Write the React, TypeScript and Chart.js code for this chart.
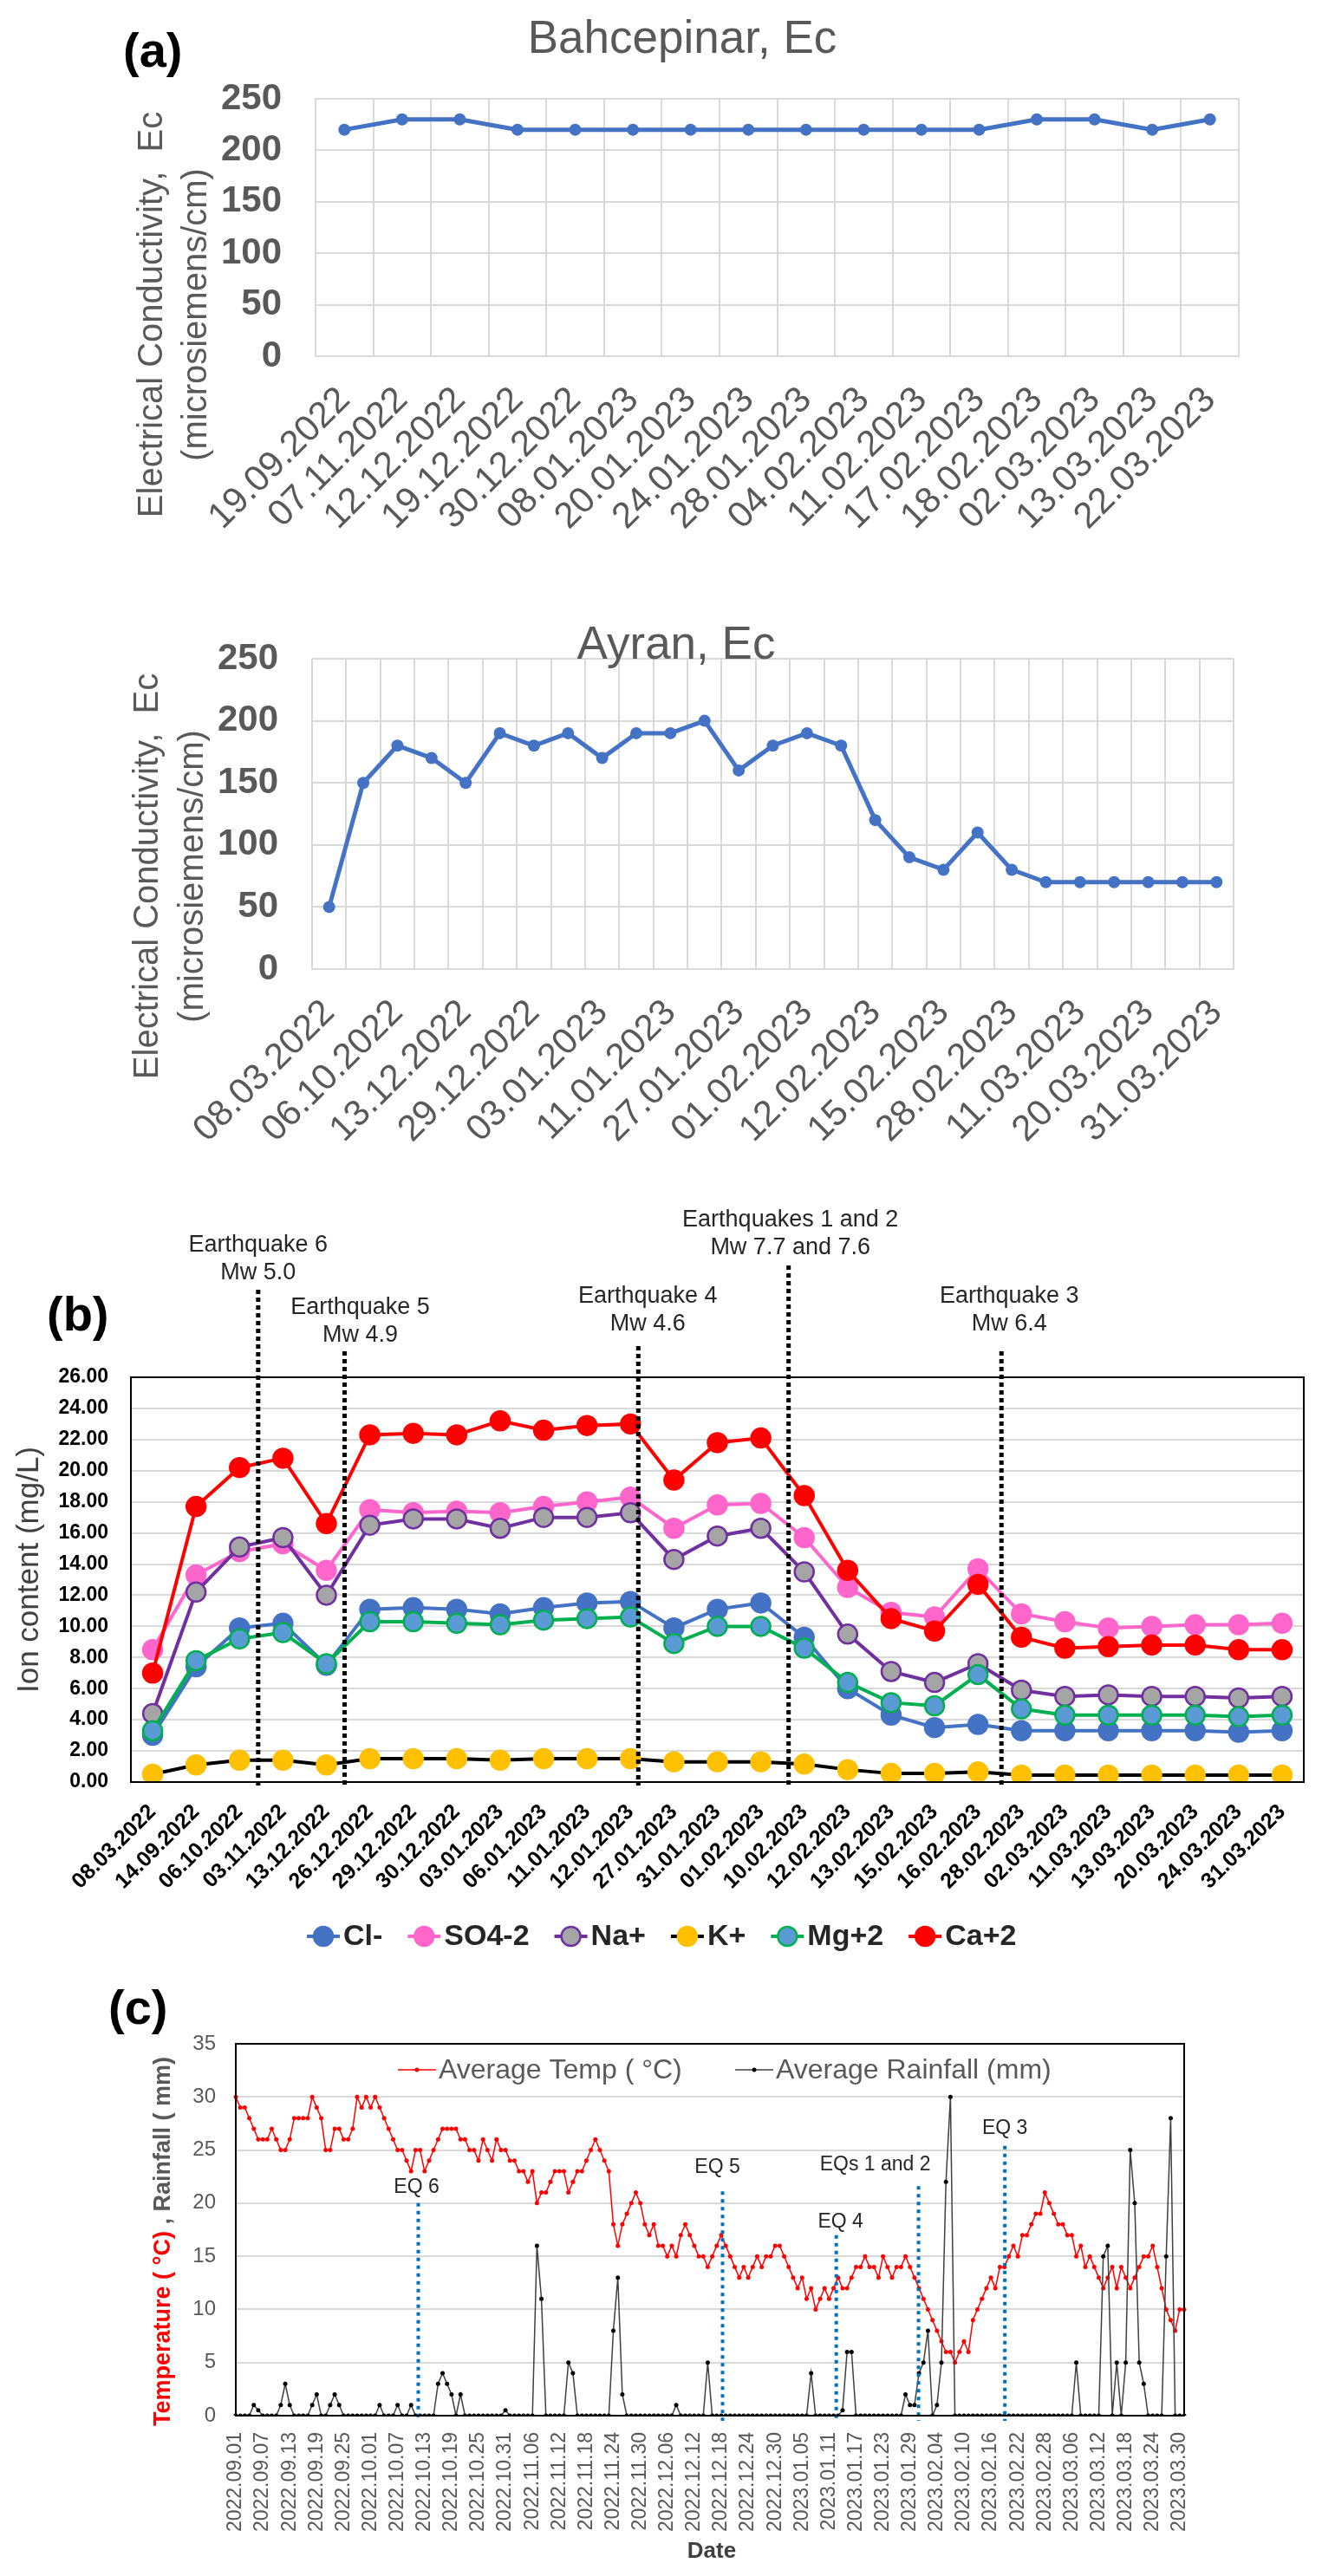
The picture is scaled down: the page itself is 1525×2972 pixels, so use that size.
import React, { useEffect, useRef } from 'react';
import { Chart, registerables } from 'chart.js';

Chart.register(...registerables);

const FONT = "'Liberation Sans', Arial, sans-serif";

// ---------- (a) Bahcepinar ----------
const bahcepinarDates = ['19.09.2022', '07.11.2022', '12.12.2022', '19.12.2022', '30.12.2022', '08.01.2023', '20.01.2023', '24.01.2023', '28.01.2023', '04.02.2023', '11.02.2023', '17.02.2023', '18.02.2023', '02.03.2023', '13.03.2023', '22.03.2023'];
const bahcepinarEc = [220, 230, 230, 220, 220, 220, 220, 220, 220, 220, 220, 220, 230, 230, 220, 230];

// ---------- (a) Ayran and (b) ions share sampling dates ----------
const sampleDates = ['08.03.2022', '14.09.2022', '06.10.2022', '03.11.2022', '13.12.2022', '26.12.2022', '29.12.2022', '30.12.2022', '03.01.2023', '06.01.2023', '11.01.2023', '12.01.2023', '27.01.2023', '31.01.2023', '01.02.2023', '10.02.2023', '12.02.2023', '13.02.2023', '15.02.2023', '16.02.2023', '28.02.2023', '02.03.2023', '11.03.2023', '13.03.2023', '20.03.2023', '24.03.2023', '31.03.2023'];
const ayranEc = [50, 150, 180, 170, 150, 190, 180, 190, 170, 190, 190, 200, 160, 180, 190, 180, 120, 90, 80, 110, 80, 70, 70, 70, 70, 70, 70];

const clValues = [3.0, 7.4, 9.9, 10.2, 7.5, 11.1, 11.2, 11.1, 10.8, 11.2, 11.5, 11.6, 9.9, 11.1, 11.5, 9.3, 6.0, 4.3, 3.5, 3.7, 3.3, 3.3, 3.3, 3.3, 3.3, 3.2, 3.3];
const so4Values = [8.5, 13.3, 14.8, 15.3, 13.6, 17.5, 17.3, 17.4, 17.3, 17.7, 18.0, 18.3, 16.3, 17.8, 17.9, 15.7, 12.5, 10.9, 10.6, 13.7, 10.8, 10.3, 9.9, 10.0, 10.1, 10.1, 10.2];
const naValues = [4.4, 12.2, 15.1, 15.7, 12.0, 16.5, 16.9, 16.9, 16.3, 17.0, 17.0, 17.3, 14.3, 15.8, 16.3, 13.5, 9.5, 7.1, 6.4, 7.6, 5.9, 5.5, 5.6, 5.5, 5.5, 5.4, 5.5];
const kValues = [0.5, 1.1, 1.4, 1.4, 1.1, 1.5, 1.5, 1.5, 1.4, 1.5, 1.5, 1.5, 1.3, 1.3, 1.3, 1.15, 0.8, 0.55, 0.55, 0.65, 0.45, 0.45, 0.45, 0.45, 0.45, 0.45, 0.45];
const mgValues = [3.3, 7.8, 9.2, 9.6, 7.6, 10.3, 10.3, 10.2, 10.1, 10.4, 10.5, 10.6, 8.9, 10.0, 10.0, 8.6, 6.4, 5.1, 4.9, 6.9, 4.7, 4.3, 4.3, 4.3, 4.3, 4.2, 4.3];
const caValues = [7.0, 17.7, 20.2, 20.8, 16.6, 22.3, 22.4, 22.3, 23.2, 22.6, 22.9, 23.0, 19.4, 21.8, 22.1, 18.4, 13.6, 10.5, 9.7, 12.7, 9.3, 8.6, 8.7, 8.8, 8.8, 8.5, 8.5];

const ionQuakes = [
  { lines: ['Earthquake 6', 'Mw 5.0'], at: 2.43, lineTop: 108, textDx: 0, textY: 57 },
  { lines: ['Earthquake 5', 'Mw 4.9'], at: 4.42, lineTop: 179, textDx: 18, textY: 129 },
  { lines: ['Earthquake 4', 'Mw 4.6'], at: 11.18, lineTop: 173, textDx: 11, textY: 116 },
  { lines: ['Earthquakes 1 and 2', 'Mw 7.7 and 7.6'], at: 14.64, lineTop: 80, textDx: 2, textY: 28 },
  { lines: ['Earthquake 3', 'Mw 6.4'], at: 19.54, lineTop: 179, textDx: 9, textY: 116 },
];

// ---------- (c) daily weather ----------
const weatherStart = Date.UTC(2022, 8, 1);
const weatherDayCount = 212;
const weatherDates: string[] = [];
for (let i = 0; i < weatherDayCount; i++) {
  const d = new Date(weatherStart + i * 86400000);
  weatherDates.push(`${d.getUTCFullYear()}.${String(d.getUTCMonth() + 1).padStart(2, '0')}.${String(d.getUTCDate()).padStart(2, '0')}`);
}
const avgTemp = [
  30, 29, 29, 28, 27, 26, 26, 26, 27, 26, 25, 25, 26, 28, 28, 28, 28, 30, 29, 28,
  25, 25, 27, 27, 26, 26, 27, 30, 29, 30, 29, 30, 29, 28, 27, 26, 25, 25, 24, 23,
  25, 25, 23, 24, 25, 26, 27, 27, 27, 27, 26, 26, 25, 25, 24, 26, 25, 24, 26, 25,
  25, 24, 24, 23, 23, 22, 23, 20, 21, 21, 22, 23, 23, 23, 21, 22, 23, 23, 24, 25,
  26, 25, 24, 23, 18, 16, 18, 19, 20, 21, 20, 18, 17, 18, 16, 16, 15, 16, 15, 17,
  18, 17, 16, 15, 15, 14, 15, 16, 17, 16, 15, 14, 13, 14, 13, 14, 15, 14, 15, 15,
  16, 16, 15, 14, 13, 12, 13, 11, 12, 10, 11, 12, 11, 12, 13, 12, 12, 13, 14, 14,
  15, 14, 14, 13, 15, 14, 13, 14, 14, 15, 14, 13, 12, 11, 10, 9, 8, 7, 6, 6,
  5, 6, 7, 6, 9, 10, 11, 12, 13, 12, 14, 14, 15, 16, 15, 17, 17, 18, 19, 19,
  21, 20, 19, 18, 18, 17, 17, 15, 16, 14, 15, 14, 13, 12, 13, 14, 12, 14, 13, 12,
  13, 14, 15, 15, 16, 14, 12, 10, 9, 8, 10, 10,
];
const avgRain = [
  0, 0, 0, 0, 1, 0.5, 0, 0, 0, 0, 1, 3, 1, 0, 0, 0, 0, 1, 2, 0,
  0, 1, 2, 1, 0, 0, 0, 0, 0, 0, 0, 0, 1, 0, 0, 0, 1, 0, 0, 1,
  0, 0, 0, 0, 0, 3, 4, 3, 2, 0, 2, 0, 0, 0, 0, 0, 0, 0, 0, 0,
  0.5, 0, 0, 0, 0, 0, 0, 16, 11, 0, 0, 0, 0, 0, 5, 4, 0, 0, 0, 0,
  0, 0, 0, 0, 8, 13, 2, 0, 0, 0, 0, 0, 0, 0, 0, 0, 0, 0, 1, 0,
  0, 0, 0, 0, 0, 5, 0, 0, 0, 0, 0, 0, 0, 0, 0, 0, 0, 0, 0, 0,
  0, 0, 0, 0, 0, 0, 0, 0, 4, 0, 0, 0, 0, 0, 0, 0.5, 6, 6, 0, 0,
  0, 0, 0, 0, 0, 0, 0, 0, 0, 2, 1, 1, 4, 5, 8, 0, 1, 5, 22, 30,
  0, 0, 0, 0, 0, 0, 0, 0, 0, 0, 0, 0, 0, 0, 0, 0, 0, 0, 0, 0,
  0, 0, 0, 0, 0, 0, 0, 5, 0, 0, 0, 0, 0, 15, 16, 0, 5, 0, 5, 25,
  20, 5, 3, 0, 0, 0, 0, 15, 28, 0, 0, 0,
];
const weatherQuakes = [
  { label: 'EQ 6', at: 40.6, top: 20.0, labelAt: 21.5, labelDx: -2 },
  { label: 'EQ 5', at: 108.3, top: 21.1, labelAt: 23.4, labelDx: -6 },
  { label: 'EQ 4', at: 133.6, top: 17.0, labelAt: 18.2, labelDx: 5 },
  { label: 'EQs 1 and 2', at: 151.9, top: 21.6, labelAt: 23.6, labelDx: -50 },
  { label: 'EQ 3', at: 171.1, top: 25.4, labelAt: 27.0, labelDx: 0 },
];

// ---------- helpers ----------
type TextPart = { text: string; color: string };
type TextItem = { text?: string; parts?: TextPart[]; color?: string; x: number; y: number; font: string; align?: 'left' | 'center' | 'right'; baseline?: CanvasTextBaseline; rotate?: number };

function drawTexts(ctx: CanvasRenderingContext2D, items: TextItem[]) {
  for (const it of items) {
    ctx.save();
    ctx.font = it.font;
    ctx.translate(it.x, it.y);
    if (it.rotate) ctx.rotate(it.rotate);
    ctx.textBaseline = it.baseline || 'middle';
    ctx.textAlign = 'left';
    const parts = it.parts || [{ text: it.text || '', color: it.color || '#000' }];
    const total = parts.reduce((w, p) => w + ctx.measureText(p.text).width, 0);
    let x = it.align === 'left' ? 0 : it.align === 'right' ? -total : -total / 2;
    for (const p of parts) {
      ctx.fillStyle = p.color;
      ctx.fillText(p.text, x, 0);
      x += ctx.measureText(p.text).width;
    }
    ctx.restore();
  }
}

const textPlugin = (items: TextItem[]) => ({
  id: 'overlayText',
  afterDraw(chart: any) {
    drawTexts(chart.ctx, items);
  },
});

const framePlugin = (color: string, width: number) => ({
  id: 'frame',
  afterDraw(chart: any) {
    const { left, top, right, bottom } = chart.chartArea;
    const ctx = chart.ctx;
    ctx.save();
    ctx.strokeStyle = color;
    ctx.lineWidth = width;
    ctx.strokeRect(left, top, right - left, bottom - top);
    ctx.restore();
  },
});

function ChartCanvas({ top, height, config }: { top: number; height: number; config: () => any }) {
  const ref = useRef<HTMLCanvasElement | null>(null);
  useEffect(() => {
    if (!ref.current) return;
    const chart = new Chart(ref.current, config());
    return () => chart.destroy();
  }, []);
  return (
    <canvas
      ref={ref}
      width={1525}
      height={height}
      style={{ position: 'absolute', left: 0, top, width: 1525, height, display: 'block' }}
    />
  );
}

const baseOptions = {
  animation: false,
  responsive: false,
  maintainAspectRatio: false,
  devicePixelRatio: 1,
};

// ---------- (a) configs ----------
function ecConfig(opts: {
  labels: string[];
  values: number[];
  padding: any;
  xHeight: number;
  title: string;
  titleX: number;
  titleY: number;
  yTitleX: [number, number];
  yTitleY: number;
  everyOther: boolean;
  extraTexts: TextItem[];
}) {
  const grey = '#595959';
  const texts: TextItem[] = [
    { text: opts.title, x: opts.titleX, y: opts.titleY, font: `53px ${FONT}`, color: grey, baseline: 'alphabetic' },
    { text: 'Electrical Conductivity,  Ec', x: opts.yTitleX[0], y: opts.yTitleY, font: `40px ${FONT}`, color: grey, rotate: -Math.PI / 2 },
    { text: '(microsiemens/cm)', x: opts.yTitleX[1], y: opts.yTitleY, font: `40px ${FONT}`, color: grey, rotate: -Math.PI / 2 },
    ...opts.extraTexts,
  ];
  return {
    type: 'line',
    data: {
      labels: opts.labels,
      datasets: [
        {
          data: opts.values,
          borderColor: '#4472C4',
          backgroundColor: '#4472C4',
          borderWidth: 5,
          pointRadius: 7,
          pointBorderWidth: 0,
          pointBackgroundColor: '#4472C4',
          tension: 0,
        },
      ],
    },
    options: {
      ...baseOptions,
      layout: { padding: opts.padding },
      plugins: { legend: { display: false }, tooltip: { enabled: false }, title: { display: false } },
      scales: {
        x: {
          type: 'category',
          offset: true,
          grid: { offset: true, color: '#D9D9D9', lineWidth: 2, drawTicks: false },
          border: { color: '#D9D9D9', width: 2 },
          ticks: {
            autoSkip: false,
            maxRotation: 45,
            minRotation: 45,
            padding: 26,
            color: grey,
            font: { family: FONT, size: 42 },
            callback: function (this: any, v: any, i: number) {
              if (opts.everyOther && i % 2 !== 0) return '';
              return opts.labels[i];
            },
          },
          afterFit: (s: any) => {
            s.height = opts.xHeight;
          },
        },
        y: {
          min: 0,
          max: 250,
          grid: { color: '#D9D9D9', lineWidth: 2, drawTicks: false },
          border: { display: false },
          ticks: { stepSize: 50, padding: 39, color: grey, font: { family: FONT, size: 42, weight: 'bold' } },
          afterFit: (s: any) => {
            s.width = 160;
          },
        },
      },
    },
    plugins: [textPlugin(texts)],
  };
}

const bahcepinarConfig = () =>
  ecConfig({
    labels: bahcepinarDates,
    values: bahcepinarEc,
    padding: { left: 204, right: 96, top: 114, bottom: 9 },
    xHeight: 230,
    title: 'Bahcepinar, Ec',
    titleX: 787,
    titleY: 61,
    yTitleX: [176, 227],
    yTitleY: 363,
    everyOther: false,
    extraTexts: [{ text: '(a)', x: 142, y: 62, font: `bold 56px ${FONT}`, color: '#000', align: 'left' }],
  });

const ayranConfig = () =>
  ecConfig({
    labels: sampleDates,
    values: ayranEc,
    padding: { left: 200, right: 102, top: 110, bottom: 7 },
    xHeight: 225,
    title: 'Ayran, Ec',
    titleX: 780,
    titleY: 110,
    yTitleX: [171, 223],
    yTitleY: 361,
    everyOther: true,
    extraTexts: [],
  });

// ---------- (b) config ----------
const ionSeries = [
  { label: 'Cl-', data: clValues, line: '#4472C4', fill: '#4472C4', edge: '#4472C4' },
  { label: 'SO4-2', data: so4Values, line: '#FF66CC', fill: '#FF66CC', edge: '#FF66CC' },
  { label: 'Na+', data: naValues, line: '#7030A0', fill: '#A5A5A5', edge: '#7030A0' },
  { label: 'K+', data: kValues, line: '#000000', fill: '#FFC000', edge: '#FFC000' },
  { label: 'Mg+2', data: mgValues, line: '#00B050', fill: '#5B9BD5', edge: '#00B050' },
  { label: 'Ca+2', data: caValues, line: '#FF0000', fill: '#FF0000', edge: '#FF0000' },
];

const ionConfig = () => {
  const quakePlugin = {
    id: 'ionQuakes',
    afterDatasetsDraw(chart: any) {
      const ctx = chart.ctx;
      const xs = chart.scales.x;
      const bottom = chart.chartArea.bottom + 4;
      for (const q of ionQuakes) {
        const x = xs.getPixelForValue(q.at);
        ctx.save();
        ctx.strokeStyle = '#000';
        ctx.lineWidth = 5;
        ctx.setLineDash([5, 4]);
        ctx.beginPath();
        ctx.moveTo(x, q.lineTop);
        ctx.lineTo(x, bottom);
        ctx.stroke();
        ctx.restore();
        drawTexts(
          ctx,
          q.lines.map((t, k) => ({ text: t, x: x + q.textDx, y: q.textY + k * 32, font: `27px ${FONT}`, color: '#262626' }))
        );
      }
    },
  };
  const legendPlugin = {
    id: 'ionLegend',
    afterDraw(chart: any) {
      const ctx = chart.ctx;
      const y = 854;
      let x = 354;
      ctx.save();
      ctx.font = `bold 34px ${FONT}`;
      ctx.textBaseline = 'middle';
      ctx.textAlign = 'left';
      chart.data.datasets.forEach((ds: any) => {
        ctx.strokeStyle = ds.borderColor;
        ctx.lineWidth = 4;
        ctx.beginPath();
        ctx.moveTo(x, y);
        ctx.lineTo(x + 38, y);
        ctx.stroke();
        ctx.beginPath();
        ctx.arc(x + 19, y, 11, 0, Math.PI * 2);
        ctx.fillStyle = ds.pointBackgroundColor;
        ctx.fill();
        ctx.lineWidth = 2.5;
        ctx.strokeStyle = ds.pointBorderColor;
        ctx.stroke();
        ctx.fillStyle = '#262626';
        ctx.fillText(ds.label, x + 42, y + 1);
        x += 42 + ctx.measureText(ds.label).width + 29;
      });
      ctx.restore();
    },
  };
  return {
    type: 'line',
    data: {
      labels: sampleDates,
      datasets: ionSeries.map((s, i) => ({
        label: s.label,
        data: s.data,
        borderColor: s.line,
        backgroundColor: s.fill,
        borderWidth: 4,
        pointRadius: 11,
        pointBorderWidth: 2.5,
        pointBackgroundColor: s.fill,
        pointBorderColor: s.edge,
        tension: 0,
        order: -i,
      })),
    },
    options: {
      ...baseOptions,
      layout: { padding: { left: 31, right: 21, top: 209, bottom: 64 } },
      plugins: { legend: { display: false }, tooltip: { enabled: false } },
      scales: {
        x: {
          type: 'category',
          offset: true,
          grid: { display: false, drawTicks: false },
          border: { display: false },
          ticks: {
            autoSkip: false,
            maxRotation: 45,
            minRotation: 45,
            padding: 20,
            color: '#000',
            font: { family: FONT, size: 25, weight: 'bold' },
          },
          afterFit: (s: any) => {
            s.height = 160;
          },
        },
        y: {
          min: 0,
          max: 26,
          grid: { color: '#D9D9D9', lineWidth: 2, drawTicks: false },
          border: { display: false },
          ticks: {
            stepSize: 2,
            padding: 26,
            color: '#000',
            font: { family: FONT, size: 23, weight: 'bold' },
            callback: (v: any) => Number(v).toFixed(2),
          },
          afterFit: (s: any) => {
            s.width = 120;
          },
        },
      },
    },
    plugins: [
      framePlugin('#000', 2),
      quakePlugin,
      legendPlugin,
      textPlugin([
        { text: '(b)', x: 54, y: 140, font: `bold 56px ${FONT}`, color: '#000', align: 'left' },
        { text: 'Ion content (mg/L)', x: 34, y: 431, font: `35px ${FONT}`, color: '#404040', rotate: -Math.PI / 2 },
      ]),
    ],
  };
};

// ---------- (c) config ----------
const weatherConfig = () => {
  const quakePlugin = {
    id: 'weatherQuakes',
    afterDatasetsDraw(chart: any) {
      const ctx = chart.ctx;
      const xs = chart.scales.x;
      const ys = chart.scales.y;
      const bottom = chart.chartArea.bottom + 6;
      for (const q of weatherQuakes) {
        const x = xs.getPixelForValue(q.at);
        ctx.save();
        ctx.strokeStyle = '#0070C0';
        ctx.lineWidth = 4;
        ctx.setLineDash([4, 5]);
        ctx.beginPath();
        ctx.moveTo(x, ys.getPixelForValue(q.top));
        ctx.lineTo(x, bottom);
        ctx.stroke();
        ctx.restore();
        drawTexts(ctx, [{ text: q.label, x: x + q.labelDx, y: ys.getPixelForValue(q.labelAt), font: `23px ${FONT}`, color: '#262626' }]);
      }
    },
  };
  const legendPlugin = {
    id: 'weatherLegend',
    afterDraw(chart: any) {
      const ctx = chart.ctx;
      const y = 98;
      const starts = [459, 848];
      ctx.save();
      ctx.font = `32px ${FONT}`;
      ctx.textBaseline = 'middle';
      ctx.textAlign = 'left';
      chart.data.datasets.forEach((ds: any, i: number) => {
        const x = starts[i];
        ctx.strokeStyle = ds.borderColor;
        ctx.lineWidth = 1.5;
        ctx.beginPath();
        ctx.moveTo(x, y);
        ctx.lineTo(x + 44, y);
        ctx.stroke();
        ctx.beginPath();
        ctx.arc(x + 22, y, 2.5, 0, Math.PI * 2);
        ctx.fillStyle = ds.pointBackgroundColor;
        ctx.fill();
        ctx.fillStyle = '#595959';
        ctx.fillText(ds.label, x + 47, y + 1);
      });
      ctx.restore();
    },
  };
  return {
    type: 'line',
    data: {
      labels: weatherDates,
      datasets: [
        {
          label: 'Average Temp ( °C)',
          data: avgTemp,
          borderColor: '#FF0000',
          backgroundColor: '#FF0000',
          borderWidth: 1.5,
          pointRadius: 2.5,
          pointBorderWidth: 0,
          pointBackgroundColor: '#FF0000',
          tension: 0,
          order: 0,
        },
        {
          label: 'Average Rainfall (mm)',
          data: avgRain,
          borderColor: '#404040',
          backgroundColor: '#000',
          borderWidth: 1.5,
          pointRadius: 2.5,
          pointBorderWidth: 0,
          pointBackgroundColor: '#000',
          tension: 0,
          order: -1,
        },
      ],
    },
    options: {
      ...baseOptions,
      layout: { padding: { left: 152, right: 159, top: 68, bottom: 25 } },
      plugins: { legend: { display: false }, tooltip: { enabled: false } },
      scales: {
        x: {
          type: 'category',
          offset: false,
          grid: { display: false, drawTicks: false },
          border: { display: false },
          ticks: {
            autoSkip: false,
            maxRotation: 90,
            minRotation: 90,
            padding: 19,
            color: '#595959',
            font: { family: FONT, size: 23 },
            callback: (v: any, i: number) => (i % 6 === 0 ? weatherDates[i] : ''),
          },
          afterFit: (s: any) => {
            s.height = 160;
          },
        },
        y: {
          min: 0,
          max: 35,
          grid: { color: '#D9D9D9', lineWidth: 2, drawTicks: false },
          border: { display: false },
          ticks: { stepSize: 5, padding: 23, color: '#595959', font: { family: FONT, size: 24 } },
          afterFit: (s: any) => {
            s.width = 120;
          },
        },
      },
    },
    plugins: [
      framePlugin('#000', 2),
      quakePlugin,
      legendPlugin,
      textPlugin([
        { text: '(c)', x: 125, y: 30, font: `bold 56px ${FONT}`, color: '#000', align: 'left' },
        {
          parts: [
            { text: 'Temperature ( °C)', color: '#FF0000' },
            { text: ' , Rainfall ( mm)', color: '#595959' },
          ],
          x: 189,
          y: 296,
          font: `bold 27px ${FONT}`,
          rotate: -Math.PI / 2,
        },
        { text: 'Date', x: 821, y: 654, font: `bold 26px ${FONT}`, color: '#404040' },
      ]),
    ],
  };
};

export default function App() {
  Chart.defaults.font.family = FONT;
  return (
    <div style={{ position: 'absolute', left: 0, top: 0, width: 1525, height: 2972, background: '#fff', overflow: 'hidden' }}>
      <ChartCanvas top={0} height={650} config={bahcepinarConfig} />
      <ChartCanvas top={650} height={700} config={ayranConfig} />
      <ChartCanvas top={1380} height={900} config={ionConfig} />
      <ChartCanvas top={2290} height={682} config={weatherConfig} />
    </div>
  );
}
